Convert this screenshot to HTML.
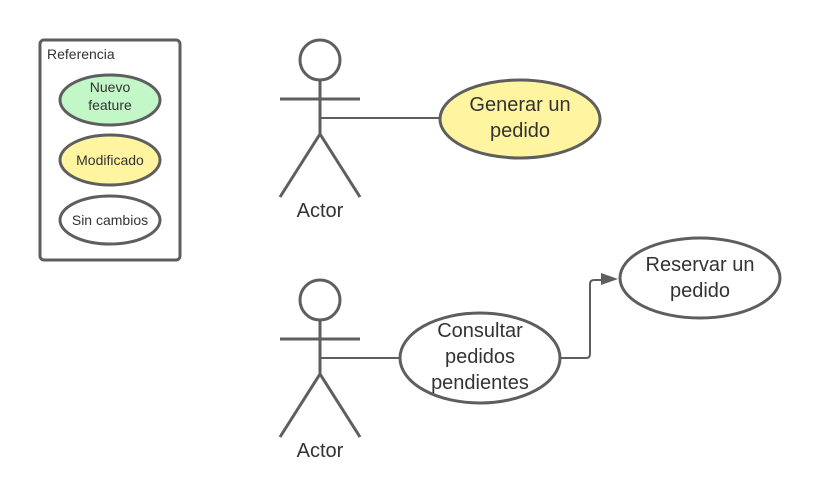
<!DOCTYPE html>
<html><head><meta charset="utf-8"><style>
html,body{margin:0;padding:0;background:#fff;}
svg{display:block;}
text{font-family:"Liberation Sans",sans-serif;fill:#333;text-anchor:middle;}
</style></head><body>
<svg width="820" height="500" viewBox="0 0 820 500" xmlns="http://www.w3.org/2000/svg">
<g stroke="#5e5e5e" stroke-width="3" fill="none">
<rect x="40" y="40" width="140" height="220" rx="4"/>
<ellipse cx="110" cy="100" rx="50" ry="25" fill="#c3f7c8"/>
<ellipse cx="110" cy="160" rx="50" ry="25" fill="#fff5a1"/>
<ellipse cx="110" cy="220" rx="50" ry="24" fill="#fff"/>
<circle cx="320" cy="60" r="20"/>
<line x1="280" y1="99" x2="360" y2="99"/>
<line x1="320" y1="80" x2="320" y2="134"/>
<polyline points="280,197 320,134 360,197"/>
<circle cx="320" cy="300" r="20"/>
<line x1="280" y1="339" x2="360" y2="339"/>
<line x1="320" y1="320" x2="320" y2="374"/>
<polyline points="280,437 320,374 360,437"/>
<line x1="319" y1="118" x2="440" y2="118" stroke-width="2"/>
<line x1="319" y1="358" x2="400" y2="358" stroke-width="2"/>
<ellipse cx="520" cy="119" rx="80" ry="39" fill="#fff5a1"/>
<ellipse cx="480" cy="358" rx="80" ry="45" fill="#fff"/>
<ellipse cx="700" cy="278" rx="80" ry="40" fill="#fff"/>
<path d="M560 358 H586 Q590 358 590 354 V284 Q590 280 594 280 H602" stroke-width="2"/>
</g>
<polygon points="601,273 618,279 601,285" fill="#5e5e5e"/>
<text x="47" y="59" font-size="14" style="text-anchor:start">Referencia</text>
<text x="110" y="92" font-size="14">Nuevo</text>
<text x="110" y="110" font-size="14">feature</text>
<text x="110" y="165" font-size="14">Modificado</text>
<text x="110" y="225" font-size="14">Sin cambios</text>
<text x="320" y="217" font-size="20">Actor</text>
<text x="320" y="457" font-size="20">Actor</text>
<text x="520" y="111" font-size="20">Generar un</text>
<text x="520" y="137" font-size="20">pedido</text>
<text x="480" y="337" font-size="20">Consultar</text>
<text x="480" y="363" font-size="20">pedidos</text>
<text x="480" y="389" font-size="20">pendientes</text>
<text x="700" y="271" font-size="20">Reservar un</text>
<text x="700" y="297" font-size="20">pedido</text>
</svg>
</body></html>
